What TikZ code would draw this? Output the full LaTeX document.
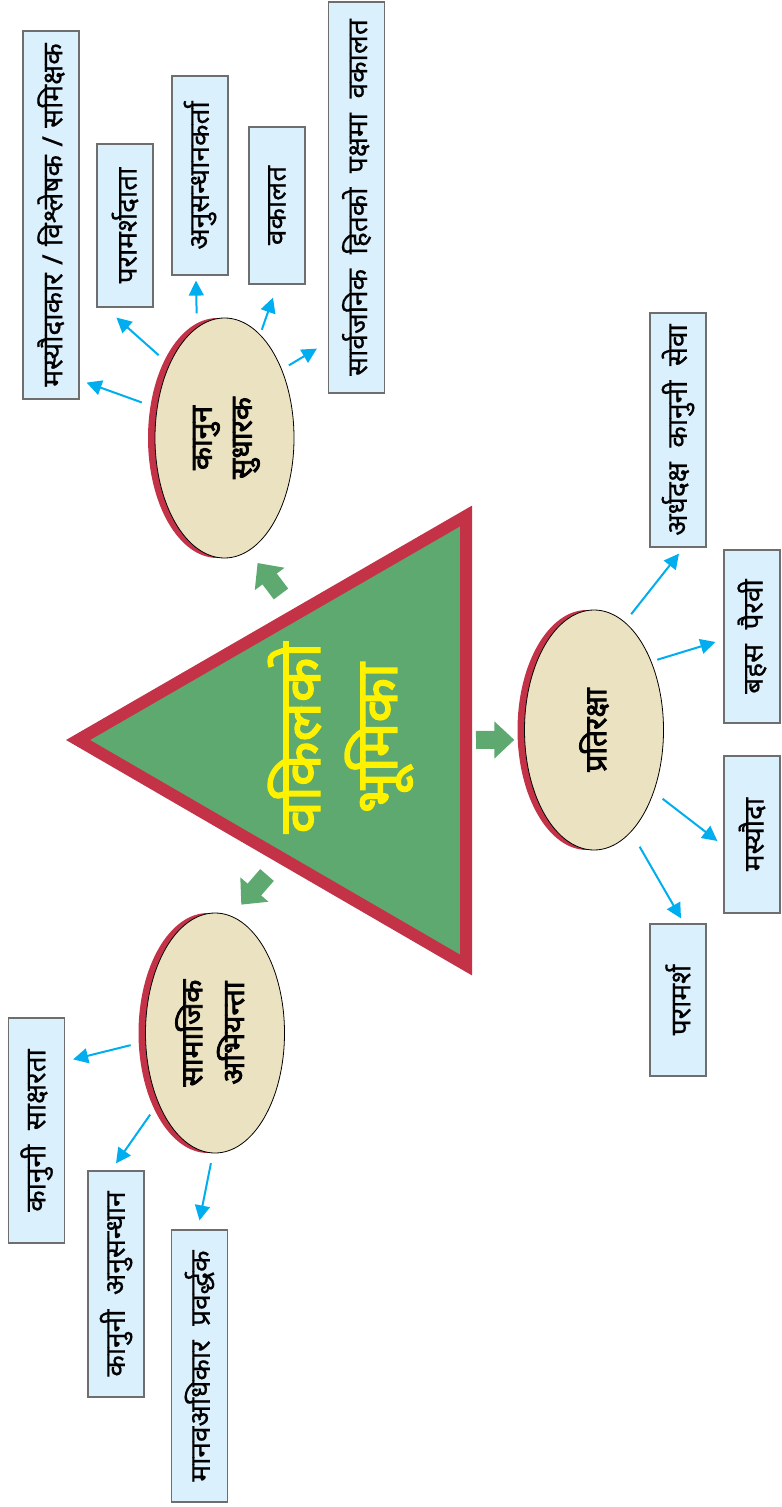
\documentclass[tikz,border=0pt]{standalone}
\usepackage{fontspec}
\usepackage{graphicx}
\usetikzlibrary{arrows.meta,shapes.geometric,shadows}
\newfontfamily\deva[Script=Devanagari, WordSpace=2, FakeBold=0.6]{Noto Sans}
\newfontfamily\devabold[Script=Devanagari, FakeBold=2.5]{Noto Sans}
\definecolor{trigreen}{RGB}{94,169,111}
\definecolor{trired}{RGB}{196,50,72}
\definecolor{ovalfill}{RGB}{234,226,192}
\definecolor{boxfill}{RGB}{218,240,252}
\definecolor{boxline}{RGB}{110,110,110}
\definecolor{linkblue}{RGB}{0,174,239}
\definecolor{titleyellow}{RGB}{255,242,0}
\newcommand{\vtext}[1]{\rotatebox{90}{#1}}
\newcommand{\vtwo}[3][2pt]{\rotatebox{90}{\begin{tabular}{@{}c@{}}#2\\[#1]#3\end{tabular}}}
\newcommand{\sep}{\hspace{0.3em}/\hspace{0.3em}}

\begin{document}
\begin{tikzpicture}[x=0.5pt,y=-0.5pt,
  role/.style={ellipse, draw=black, line width=0.4pt, fill=ovalfill,
    minimum width=69.5pt, minimum height=120pt, inner sep=0pt,
    font=\devabold\fontsize{15}{18}\selectfont,
    general shadow={fill=trired, shadow xshift=-3.5pt}},
  duty/.style={draw=boxline, line width=0.6pt, fill=boxfill,
    minimum width=28pt, inner sep=0pt, font=\deva\fontsize{14}{16}\selectfont},
  link/.style={draw=linkblue, line width=1pt, -{Triangle[length=7.5pt,width=7.5pt]}},
  push/.style={draw=trigreen, line width=9pt, -{Triangle[length=10pt,width=18pt]}}]
  \useasboundingbox (0,0) rectangle (781,1507);

  % triangle
  \draw[trired, fill=trigreen, line width=6pt, line join=miter]
    (78,740) -- (466,516) -- (466,965) -- cycle;
  \node[text=titleyellow, font=\devabold\fontsize{29}{35}\selectfont]
    (title) at (343,738) {\vtwo[2pt]{वकिलको}{भूमिका}};

  % roles
  \node[role] (reform) at (224.5,438) {\vtwo{कानुन}{सुधारक}};
  \node[role] (defence) at (594,730) {\vtext{प्रतिरक्षा}};
  \node[role] (activist) at (215,1033) {\vtwo{सामाजिक}{अभियन्ता}};

  % duties
  \node[duty, minimum height=184pt] (drafter) at (51,215) {\vtext{मस्यौदाकार\sep विश्लेषक\sep समिक्षक}};
  \node[duty, minimum height=81.5pt] (adviser) at (125,225.5) {\vtext{परामर्शदाता}};
  \node[duty, minimum height=99.5pt] (researcher) at (200,175.5) {\vtext{अनुसन्धानकर्ता}};
  \node[duty, minimum height=78.5pt] (advocacy) at (277,205.5) {\vtext{वकालत}};
  \node[duty, minimum height=195.5pt] (publicint) at (356.5,197.5) {\vtext{सार्वजनिक हितको पक्षमा वकालत}};
  \node[duty, minimum height=117pt] (paralegal) at (678,430) {\vtext{अर्धदक्ष कानुनी सेवा}};
  \node[duty, minimum height=86.5pt] (pleading) at (752,636.5) {\vtext{बहस पैरवी}};
  \node[duty, minimum height=78.5pt] (drafting) at (752,834.5) {\vtext{मस्यौदा}};
  \node[duty, minimum height=76pt] (advice) at (678,1000) {\vtext{परामर्श}};
  \node[duty, minimum height=112.5pt] (literacy) at (36.5,1130.5) {\vtext{कानुनी साक्षरता}};
  \node[duty, minimum height=113pt] (legalres) at (116,1284) {\vtext{कानुनी अनुसन्धान}};
  \node[duty, minimum height=136pt] (rights) at (199.5,1366) {\vtext{मानवअधिकार प्रवर्द्धक}};

  % green arrows
  \coordinate (gt1) at (281,594);
  \coordinate (gt2) at (267,875);
  \coordinate (gt3) at (476,740);
  \draw[push, shorten >=7.5pt] (gt1) -- (reform.-78);
  \draw[push, shorten >=7.5pt] (gt2) -- (activist.82);
  \draw[push, shorten >=5pt] (gt3) -- (defence.188);

  % blue arrows
  \draw[link, shorten <=8pt] (reform.156) -- ([shift={(7,-17)}]drafter.south east);
  \draw[link, shorten <=7pt] (reform.127) -- ([shift={(20,10)}]adviser.south west);
  \draw[link, shorten <=7pt] (reform.104) -- ([shift={(-4,5)}]researcher.south);
  \draw[link, shorten <=2.5pt] (reform.71) -- ([shift={(-4,13)}]advocacy.south);
  \draw[link, shorten <=4pt] (reform.50) -- ([shift={(-11,-45)}]publicint.south west);
  \draw[link, shorten <=5pt] (defence.74) -- ([shift={(1,6)}]paralegal.south);
  \draw[link, shorten <=3pt] (defence.50) -- ([shift={(-8,5.5)}]pleading.west);
  \draw[link, shorten <=5.5pt] (defence.-46) -- ([shift={(-6,6.5)}]drafting.west);
  \draw[link, shorten <=8.5pt] (defence.-70) -- ([shift={(3,-5)}]advice.north);
  \draw[link, shorten <=7.5pt] (activist.187) -- ([shift={(8,42)}]literacy.north east);
  \draw[link, shorten <=7pt] (activist.231) -- ([shift={(0,-7)}]legalres.north);
  \draw[link, shorten <=5pt] (activist.269) -- ([shift={(0,-9)}]rights.north);
\end{tikzpicture}
\end{document}
